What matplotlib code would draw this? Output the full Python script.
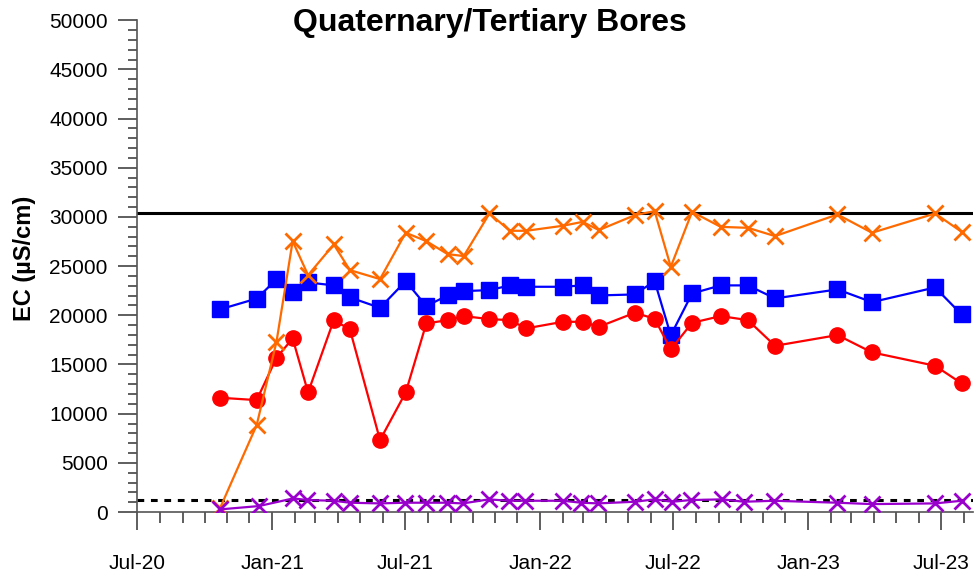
import matplotlib
matplotlib.use("Agg")
from matplotlib import pyplot as plt
import matplotlib.dates as mdates
import pandas as pd

plt.rcParams['font.family'] = ['Liberation Sans', 'DejaVu Sans']

# sampling dates shared by the blue, red and orange bores
dates = ['2020-10-22', '2020-12-11', '2021-01-07', '2021-01-29', '2021-02-19',
         '2021-03-26', '2021-04-17', '2021-05-28', '2021-07-02', '2021-07-30',
         '2021-08-28', '2021-09-19', '2021-10-24', '2021-11-21', '2021-12-13',
         '2022-02-01', '2022-02-28', '2022-03-22', '2022-05-10', '2022-06-06',
         '2022-06-28', '2022-07-27', '2022-09-04', '2022-10-11', '2022-11-17',
         '2023-02-10', '2023-03-29', '2023-06-23', '2023-07-29']

blue_ec = [20600, 21700, 23650, 22400, 23340, 23040, 21820, 20760, 23475, 20935,
           22020, 22460, 22560, 23040, 22900, 22900, 23040, 22020, 22120, 23475,
           17960, 22220, 23040, 23040, 21720, 22630, 21340, 22830, 20090]

red_ec = [11620, 11380, 15680, 17650, 12160, 19510, 18560, 7320, 12160, 19170,
          19510, 19920, 19610, 19510, 18670, 19340, 19340, 18830, 20260, 19650,
          16530, 19240, 19920, 19510, 16900, 17990, 16230, 14870, 13080]

orange_ec = [380, 8840, 17310, 27540, 24085, 27200, 24590, 23680, 28390, 27540,
             26220, 26020, 30350, 28590, 28590, 29100, 29500, 28660, 30180, 30590,
             24930, 30520, 28990, 28890, 28050, 30250, 28390, 30350, 28490]

# purple bore has no sample in early January 2021
purple_dates = ['2020-10-22', '2020-12-14', '2021-01-30', '2021-02-18', '2021-03-26',
                '2021-04-17', '2021-05-28', '2021-07-01', '2021-07-29', '2021-08-27',
                '2021-09-18', '2021-10-23', '2021-11-20', '2021-12-11', '2022-02-01',
                '2022-02-26', '2022-03-21', '2022-05-10', '2022-06-06', '2022-06-30',
                '2022-07-25', '2022-09-06', '2022-10-06', '2022-11-16', '2023-02-10',
                '2023-03-29', '2023-06-23', '2023-07-29']
purple_ec = [270, 610, 1390, 1220, 1150, 950, 880, 950, 950, 950,
             880, 1290, 1150, 1150, 1150, 950, 880, 1050, 1290, 1050,
             1220, 1290, 1050, 1150, 950, 810, 880, 1150]

upper_limit = 30400
lower_limit = 1200

x = pd.to_datetime(dates)
xp = pd.to_datetime(purple_dates)

fig = plt.figure(figsize=(9.75, 5.76), dpi=100)
ax = fig.add_axes([0.1405, 0.111, 0.857, 0.854])

ax.axhline(upper_limit, color='black', lw=2.2, zorder=1)
ax.axhline(lower_limit, color='black', lw=2.2, ls=(0, (2.2, 2.2)), zorder=1)

ax.plot(x, blue_ec, color='#0000FF', marker='s', ms=11.5, lw=1.6, zorder=3)
ax.plot(x, red_ec, color='#FF0000', marker='o', ms=11, lw=1.6, zorder=3)
ax.plot(x, orange_ec, color='#FF6A00', marker='x', ms=11, mew=2, lw=1.6, zorder=4)
ax.plot(xp, purple_ec, color='#9900CC', marker='x', ms=11, mew=2, lw=1.6, zorder=4)

ax.set_xlim(pd.Timestamp('2020-07-01'), pd.Timestamp('2023-08-13'))
ax.set_ylim(0, 50000)

ax.xaxis.set_major_locator(mdates.MonthLocator(bymonth=[1, 7]))
ax.xaxis.set_minor_locator(mdates.MonthLocator())
ax.xaxis.set_major_formatter(mdates.DateFormatter('%b-%y'))
ax.set_yticks(range(0, 50001, 5000))
ax.set_yticks(range(0, 50001, 1000), minor=True)

for s in ['top', 'right']:
    ax.spines[s].set_visible(False)
for s in ['left', 'bottom']:
    ax.spines[s].set_color('#555555')
    ax.spines[s].set_linewidth(1.2)

ax.tick_params(axis='x', which='major', length=13, width=1.1, color='#333333',
               pad=17, labelsize=15)
ax.tick_params(axis='x', which='minor', length=8, width=1.1, color='#333333')
ax.tick_params(axis='y', which='major', length=14, width=1.1, color='#333333',
               pad=7, labelsize=15)
ax.tick_params(axis='y', which='minor', length=6.5, width=1.1, color='#333333')

ax.set_ylabel('EC (µS/cm)', fontsize=17, fontweight='bold')
ax.yaxis.set_label_coords(-0.121, 0.515)
fig.text(490 / 975, 1 - 23 / 576, 'Quaternary/Tertiary Bores', ha='center', va='center',
         fontsize=23, fontweight='bold')

fig.savefig('out.png', dpi=100)
